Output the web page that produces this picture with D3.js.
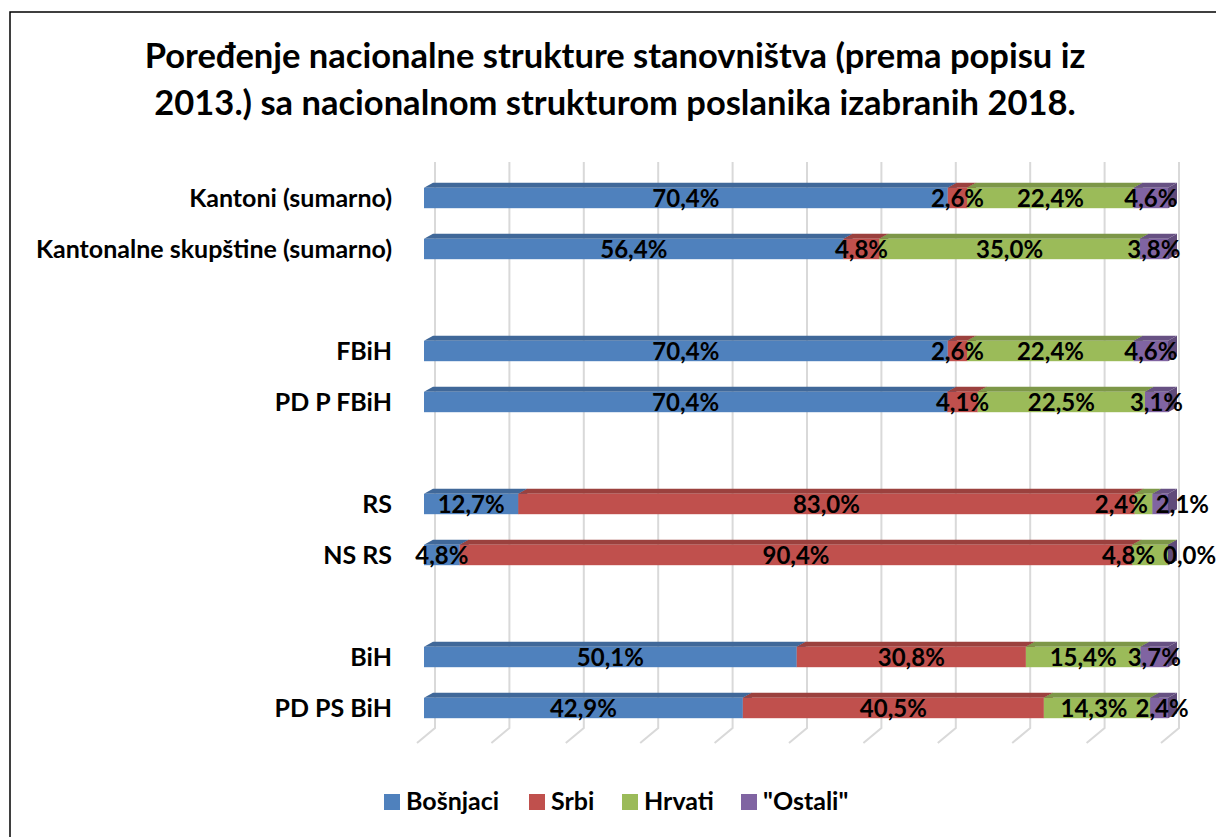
<!DOCTYPE html>
<html>
<head>
<meta charset="utf-8">
<script src="https://cdn.jsdelivr.net/npm/d3@7"></script>
<style>
  body { margin: 0; background: #fff; }
  text { font-family: Lato, "Open Sans", sans-serif; font-weight: bold; fill: #000; }
</style>
</head>
<body>
<svg id="chart"></svg>
<script>
const width = 1216, height = 837;

// null rows are the empty gaps between groups
const categories = [
    "Kantoni (sumarno)", "Kantonalne skupštine (sumarno)", null,
    "FBiH", "PD P FBiH", null,
    "RS", "NS RS", null,
    "BiH", "PD PS BiH",
];
const bosnjaci = [70.4, 56.4, null, 70.4, 70.4, null, 12.7, 4.8, null, 50.1, 42.9];
const srbi     = [2.6, 4.8, null, 2.6, 4.1, null, 83.0, 90.4, null, 30.8, 40.5];
const hrvati   = [22.4, 35.0, null, 22.4, 22.5, null, 2.4, 4.8, null, 15.4, 14.3];
const ostali   = [4.6, 3.8, null, 4.6, 3.1, null, 2.1, 0.0, null, 3.7, 2.4];
const seriesNames = ["Bošnjaci", "Srbi", "Hrvati", "\"Ostali\""];
const colors = ["#4F81BD", "#C0504D", "#9BBB59", "#8064A2"];

const title = [
    "Poređenje nacionalne strukture stanovništva (prema popisu iz",
    "2013.) sa nacionalnom strukturom poslanika izabranih 2018.",
];

let rows = categories.map((c, i) => ({
    i: i, cat: c,
    s0: bosnjaci[i] || 0, s1: srbi[i] || 0, s2: hrvati[i] || 0, s3: ostali[i] || 0,
    raw: [bosnjaci[i], srbi[i], hrvati[i], ostali[i]],
}));
let filled = rows.filter((r) => r.cat !== null);

let stack = d3.stack().keys(["s0", "s1", "s2", "s3"]).offset(d3.stackOffsetExpand);
let stacked = stack(filled);

let x = d3.scaleLinear().domain([0, 1]).range([424, 1168]);
let y = d3.scaleBand()
    .domain(d3.range(categories.length))
    .range([172.5, 733.5])
    .paddingInner(0.6)
    .paddingOuter(0.3);

// 3D depth of bars and of the floor/back wall
const dx = 9, dy = 5;
const wallBack = 11, wallFront = -7, gridTop = 162, floorBack = 728, floorFront = 743;

let svg = d3.select("svg#chart").attr("width", width).attr("height", height);

svg.append("rect")
    .attr("x", 10).attr("y", 12)
    .attr("width", width + 20).attr("height", height + 20)
    .attr("fill", "#fff")
    .attr("stroke", "#000")
    .attr("stroke-width", 1.5);

svg.append("text")
    .attr("text-anchor", "middle")
    .style("font-size", "34.5px")
    .selectAll("tspan")
    .data(title)
    .enter()
    .append("tspan")
    .attr("x", 615)
    .attr("y", (d, i) => 68 + i * 47)
    .text((d) => d);

// gridlines on the back wall + floor
let ticks = x.ticks(10);
let grid = svg.append("g").attr("stroke", "#D9D9D9").attr("stroke-width", 2).attr("fill", "none");
grid.selectAll("path")
    .data(ticks)
    .enter()
    .append("path")
    .attr("d", (t) => `M${x(t) + wallBack},${gridTop}V${floorBack}L${x(t) + wallFront},${floorFront}`);

// bars
let segs = [];
stacked.forEach((layer, k) => {
    layer.forEach((d) => {
        segs.push({ k: k, row: d.data, x0: d[0], x1: d[1] });
    });
});
segs.sort((a, b) => a.k - b.k);

let bars = svg.append("g");
let bw = y.bandwidth();
segs.forEach((s) => {
    let g = bars.append("g");
    let x0 = x(s.x0), x1 = x(s.x1), y0 = y(s.row.i);
    let c = d3.color(colors[s.k]);
    g.append("path")
        .attr("d", `M${x1},${y0}L${x1 + dx},${y0 - dy}V${y0 + bw - dy}L${x1},${y0 + bw}Z`)
        .attr("fill", c.darker(0.8));
    g.append("path")
        .attr("d", `M${x0},${y0}L${x0 + dx},${y0 - dy}H${x1 + dx}L${x1},${y0}Z`)
        .attr("fill", c.darker(0.6));
    g.append("rect")
        .attr("x", x0).attr("y", y0)
        .attr("width", Math.max(0, x1 - x0)).attr("height", bw)
        .attr("fill", c);
});

// data labels
let fmt = (v) => v.toFixed(1).replace(".", ",") + "%";
let labels = svg.append("g")
    .selectAll("text")
    .data(segs)
    .enter()
    .append("text")
    .attr("text-anchor", "middle")
    .style("font-size", "24px")
    .attr("x", (s) => (x(s.x0) + x(s.x1)) / 2)
    .attr("y", (s) => y(s.row.i) + bw / 2 + 8.5)
    .text((s) => fmt(s.row.raw[s.k]));

// push apart labels that collide inside a row
labels.each(function (s) {
    s.cx = (x(s.x0) + x(s.x1)) / 2;
    s.w = this.getComputedTextLength();
    s.node = this;
});
d3.group(segs, (s) => s.row.i).forEach((list) => {
    list.sort((a, b) => a.k - b.k);
    for (let j = 1; j < list.length; j++) {
        let a = list[j - 1], b = list[j];
        let overlap = (a.cx + a.w / 2) - (b.cx - b.w / 2) + 8;
        if (overlap > 0) {
            a.cx -= overlap / 2;
            b.cx += overlap / 2;
        }
    }
    list.forEach((s) => d3.select(s.node).attr("x", s.cx));
});

// category labels
svg.append("g")
    .selectAll("text")
    .data(filled)
    .enter()
    .append("text")
    .attr("text-anchor", "end")
    .style("font-size", "25px")
    .attr("x", 392)
    .attr("y", (r) => y(r.i) + bw / 2 + 9)
    .text((r) => r.cat);

// legend
let legendX = [384, 529, 622, 741];
let legend = svg.append("g")
    .selectAll("g")
    .data(seriesNames)
    .enter()
    .append("g")
    .attr("transform", (d, i) => `translate(${legendX[i]},794)`);
legend.append("rect")
    .attr("x", 0).attr("y", 0)
    .attr("width", 16).attr("height", 16)
    .attr("fill", (d, i) => colors[i]);
legend.append("text")
    .attr("x", 22).attr("y", 16)
    .style("font-size", "25px")
    .text((d) => d);
</script>
</body>
</html>
